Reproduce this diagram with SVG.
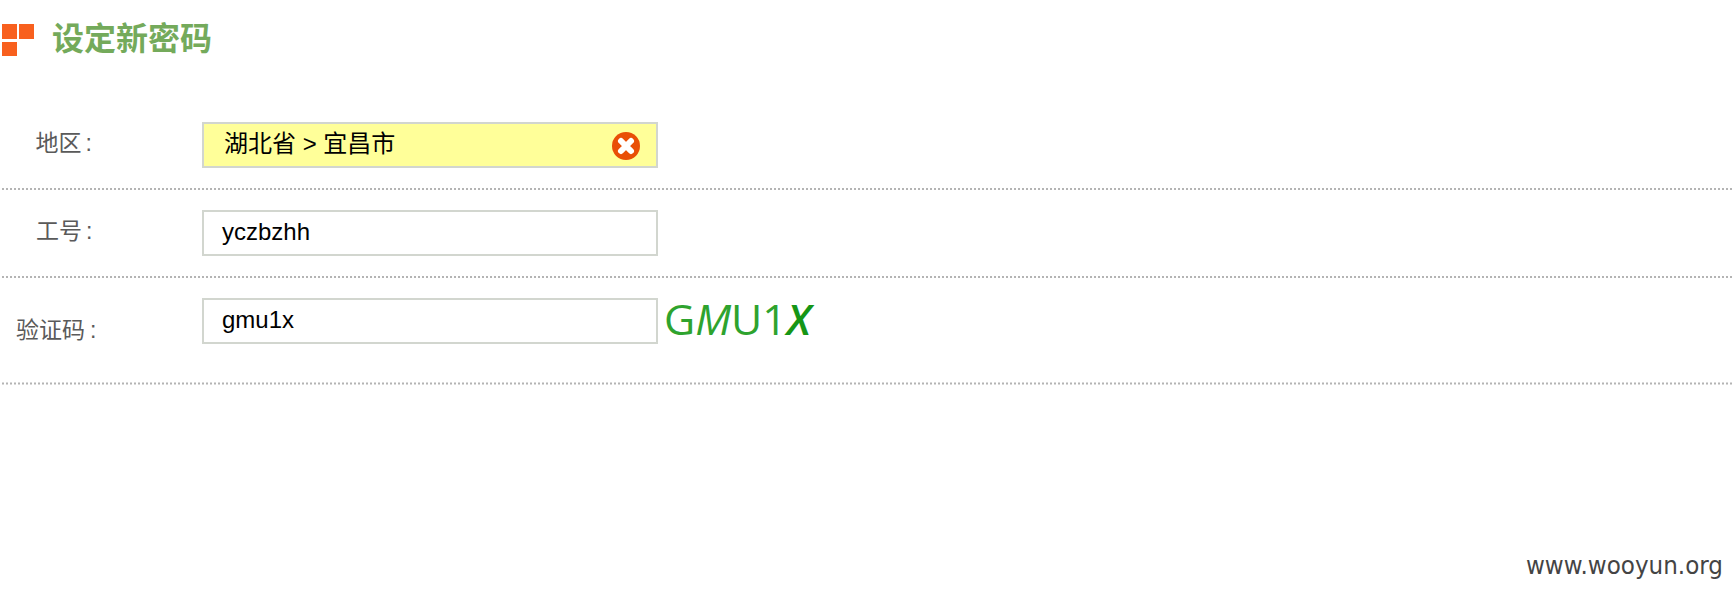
<svg xmlns="http://www.w3.org/2000/svg" width="1732" height="594" viewBox="0 0 1732 594">
<style>
.cjk{font-family:"Liberation Sans","Noto Sans CJK SC",sans-serif}
.lab{font-size:23px;fill:#5a5a5a}
.val{font-size:24px;fill:#000}
.box{fill:#fff;stroke:#d2d6cf;stroke-width:2}
.dot{stroke:#b4b4b4;stroke-width:2;stroke-dasharray:2 2;fill:none}
.sq{fill:#f8601e}
</style>
<rect width="1732" height="594" fill="#fff"/>
<g id="title">
<rect class="sq" x="2" y="24" width="15" height="15"/>
<rect class="sq" x="19" y="24" width="15" height="15"/>
<rect class="sq" x="2" y="42" width="15" height="14"/>
<text class="cjk" x="52" y="50" font-size="32" font-weight="700" fill="#74aa5b">设定新密码</text>
</g>
<g id="connectors">
<path class="dot" d="M2 189H1732"/>
<path class="dot" d="M2 277H1732"/>
<path class="dot" d="M2 383.500H1732"/>
</g>
<g id="row-area">
<text class="cjk lab" x="35.500" y="151">地区<tspan dx="4">:</tspan></text>
<rect class="box" x="203" y="123" width="454" height="44" style="fill:#ffff99"/>
<text class="cjk val" x="224" y="152">湖北省 &gt; 宜昌市</text>
<circle cx="626" cy="146" r="14" fill="#e94f06"/>
<path d="M621 141L631 151M631 141L621 151" stroke="#fff" stroke-width="6" stroke-linecap="round"/>
</g>
<g id="row-id">
<text class="cjk lab" x="36" y="239">工号<tspan dx="4">:</tspan></text>
<rect class="box" x="203" y="211" width="454" height="44"/>
<text class="cjk val" x="222" y="240">yczbzhh</text>
</g>
<g id="row-code">
<text class="cjk lab" x="16" y="338">验证码<tspan dx="5">:</tspan></text>
<rect class="box" x="203" y="299" width="454" height="44"/>
<text class="cjk val" x="222" y="328">gmu1x</text>
</g>
<g id="captcha">
<text x="664" y="335" font-family="'Open Sans',sans-serif" font-size="42" fill="#2ea32e" textLength="147" lengthAdjust="spacingAndGlyphs">G<tspan font-style="italic">M</tspan>U1<tspan font-style="italic" font-weight="600" fill="#169616">X</tspan></text>
</g>
<g id="watermark">
<text x="1526" y="574" font-family="'DejaVu Sans',sans-serif" font-size="24" fill="#444" textLength="197" lengthAdjust="spacingAndGlyphs">www.wooyun.org</text>
</g>
</svg>
